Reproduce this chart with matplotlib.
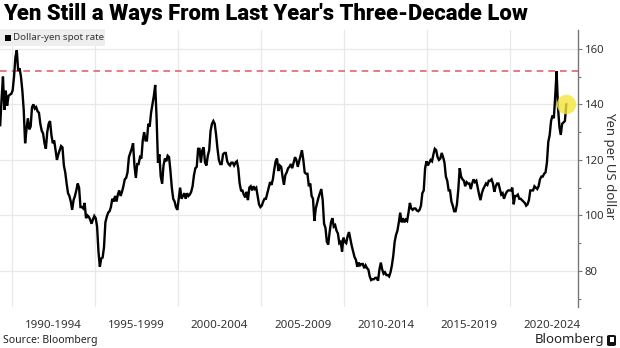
import matplotlib
matplotlib.use("Agg")
import matplotlib.pyplot as plt
import numpy as np
from matplotlib.patches import Rectangle, FancyBboxPatch

# Monthly USD/JPY spot rate, starting April 1989
start_year = 1989
start_month = 4

usdjpy_1989_1999 = [
    132.5, 142, 150, 138, 145, 139.5, 143, 143.5, 143.8,
    145, 150, 157, 159.5, 152, 153, 150, 145, 138, 126, 131, 135,
    131, 132, 139, 140, 138.5, 139, 137.5, 137, 133, 130.5, 129.5, 126,
    124, 130, 133, 134, 129, 126, 127, 123.5, 120, 122, 123.5, 125,
    124.5, 118, 115.5, 111.5, 108, 107, 105, 102, 105.5, 107, 109, 111.5,
    110, 103, 103, 102.5, 104.5, 99, 100, 99.5, 98.5, 97, 98.5, 99.8,
    99, 96, 87, 81.5, 84.5, 84.8, 88.5, 97.5, 99.5, 101, 101.5, 103,
    106, 105, 107, 105, 107.5, 109, 107, 108.5, 110.5, 113, 113.5, 115.5,
    121, 122.5, 124, 126, 118, 113.5, 118.5, 118.5, 121, 120.5, 127, 130,
    127, 127, 133, 132, 137, 140, 143, 147, 135, 119, 122, 114,
    111.5, 118, 120.5, 119.5, 121.5, 121, 116, 110, 106, 105, 103, 102,
]
usdjpy_2000_2009 = [
    106, 110, 106, 107, 108, 106, 108, 107, 107.5, 108.5, 110.5, 114.5,
    117, 117.5, 124, 124, 119, 123.5, 124.5, 119, 118, 121.5, 123.5, 130.5,
    133, 134, 133, 129, 124, 120, 118.5, 118.5, 122, 122.5, 122.5, 119.5,
    118.5, 118, 119, 119, 118, 119, 119.5, 117, 111.5, 109, 109, 107.5,
    106.5, 108.5, 105.5, 110, 110.5, 109, 110.5, 109.5, 110, 107, 104, 103,
    103.5, 105, 106, 106, 108, 110, 112, 111, 113, 116.5, 119.5, 120.5,
    116, 118, 117.5, 114, 111, 114.5, 115.5, 117, 117.5, 118.5, 117, 119,
    121, 120, 117.5, 119.5, 121.5, 123.5, 120, 115.5, 115, 115, 110.5, 111.5,
    107, 106, 98, 102.5, 104.5, 106.5, 108, 109.5, 105.5, 97, 95.5, 90.5,
    89.5, 94, 97.5, 99, 96, 96.5, 94.5, 93.5, 90, 90.5, 87, 92,
]
usdjpy_2010_2019 = [
    90.5, 90, 92.5, 94, 91.5, 89, 87, 85, 84, 81.5, 83, 82,
    82.5, 82.5, 81, 82, 81, 80.5, 78, 76.7, 77, 77, 77.5, 77.5,
    76.5, 80.5, 83, 80.5, 79, 79.5, 78.5, 78.5, 78, 79.5, 82, 85.5,
    90.5, 93, 94.5, 97.5, 101, 97.5, 99, 97.5, 98.5, 98, 101, 104.5,
    102.5, 102, 102.5, 102.5, 101.8, 101.5, 102, 103.5, 108, 109, 117, 119.5,
    118, 119, 120, 119.5, 122, 124, 123.5, 121, 120, 120.5, 122.5, 121,
    119, 114, 112.5, 109, 109, 105, 103.5, 101.5, 101.5, 104, 109.5, 117,
    114, 113, 112.5, 110.5, 112, 111.5, 111.5, 109.5, 111.5, 113, 112, 112.5,
    110, 107.5, 105.5, 108, 109.5, 110.5, 111.5, 111, 112.5, 112.5, 113, 111.5,
    108.5, 110.5, 111.5, 111.5, 109.5, 107.5, 108, 106, 107.5, 108.5, 109, 109,
]
usdjpy_2020_2023 = [
    109, 110, 104, 107, 107, 107.5, 106, 106, 105.5, 105, 104.5, 103.5,
    104, 105.5, 109, 109, 109, 110.5, 110, 109.5, 110.5, 113, 114, 114,
    115, 115.5, 119, 126.5, 129, 134, 136, 135, 143, 151.9, 139, 132,
    129, 133, 133.5, 134, 140,
]

period_starts = [1990, 1995, 2000, 2005, 2010, 2015, 2020]
period_labels = ["1990-1994", "1995-1999", "2000-2004", "2005-2009",
                 "2010-2014", "2015-2019", "2020-2024"]
ytick_values = [80, 100, 120, 140, 160]
three_decade_high = 151.95

rate = np.array(usdjpy_1989_1999 + usdjpy_2000_2009 + usdjpy_2010_2019 + usdjpy_2020_2023)
t = start_year + (start_month - 1 + np.arange(len(rate)) + 0.5) / 12.0

W, H = 620, 348
fig = plt.figure(figsize=(W / 100, H / 100), dpi=100)
fig.patch.set_facecolor("white")

ax_left, ax_right, ax_top, ax_bottom = 0, 578, 30, 307
ax = fig.add_axes([ax_left / W, 1 - ax_bottom / H, (ax_right - ax_left) / W, (ax_bottom - ax_top) / H])

FONT = ["Noto Sans", "DejaVu Sans"]

ax.plot(t, rate, color="black", lw=1.7, solid_joinstyle="miter", zorder=3)
ax.axhline(three_decade_high, color="#e0666a", lw=1.2, dashes=(4, 3), zorder=2)

# highlight the latest reading
ax.plot(t[-1], rate[-1], "o", ms=14, color="#f3e53a", alpha=0.8,
        markeredgewidth=0, zorder=4)

ax.set_xlim(1989.28, 2024.08)
ax.set_ylim(67, 166.8)

for s in ("left", "top", "bottom"):
    ax.spines[s].set_visible(False)
ax.spines["right"].set_color("#777777")
ax.spines["right"].set_linewidth(1.0)

ax.yaxis.tick_right()
ax.set_yticks(ytick_values)
ax.set_yticks([70, 90, 110, 130, 150], minor=True)
ax.tick_params(axis="y", which="major", length=3, width=0.8, color="#777777",
               pad=2, labelsize=8.2, labelcolor="#333333")
ax.tick_params(axis="y", which="minor", length=2, width=0.8, color="#777777")
for lab in ax.get_yticklabels():
    lab.set_family(FONT)

ax.set_xticks(period_starts)
ax.set_xticklabels([])
ax.set_xticks([p + 2.5 for p in period_starts], minor=True)
ax.set_xticklabels(period_labels, minor=True, family=FONT, fontsize=8.3, color="#333333")
ax.tick_params(axis="x", which="both", length=0)
ax.tick_params(axis="x", which="minor", pad=9)

ax.grid(True, which="major", color="#e8e8e8", lw=0.9, zorder=0)
ax.set_axisbelow(True)

# axis title, reading downward beside the tick labels
fig.text(610 / W, 1 - 166 / H, "Yen per US dollar", rotation=270, family=FONT,
         fontsize=9.5, color="#333333", ha="center", va="center")

# legend chip
fig.patches.append(Rectangle((0, 1 - 46 / H), 105 / W, 17 / H, transform=fig.transFigure,
                             facecolor="#eeeeee", edgecolor="none", zorder=5))
fig.patches.append(Rectangle((5 / W, 1 - 41 / H), 6 / W, 6 / H, transform=fig.transFigure,
                             facecolor="black", edgecolor="none", zorder=6))
fig.text(13 / W, 1 - 37.5 / H, "Dollar-yen spot rate", family=FONT, fontsize=7,
         color="#333333", va="center", ha="left", zorder=7)

fig.text(3 / W, 1 - 14 / H, "Yen Still a Ways From Last Year's Three-Decade Low",
         family=["Roboto", "DejaVu Sans"], fontweight="black", fontsize=15.8,
         color="black", va="center", ha="left")

fig.text(3 / W, 1 - 341 / H, "Source: Bloomberg", family=FONT, fontweight="bold",
         fontsize=7.5, color="#222222", va="center", ha="left")

fig.text(604 / W, 1 - 340 / H, "Bloomberg", family=FONT, fontsize=9.5,
         color="#222222", va="center", ha="right")
fig.patches.append(FancyBboxPatch((607 / W, 1 - 346 / H), 9 / W, 11 / H,
                                  boxstyle="round,pad=0,rounding_size=0.004",
                                  transform=fig.transFigure, facecolor="#111111",
                                  edgecolor="none"))
fig.patches.append(Rectangle((609.5 / W, 1 - 342 / H), 4 / W, 5 / H, transform=fig.transFigure,
                             facecolor="white", edgecolor="none", zorder=6))

fig.savefig("out.png", dpi=100)
